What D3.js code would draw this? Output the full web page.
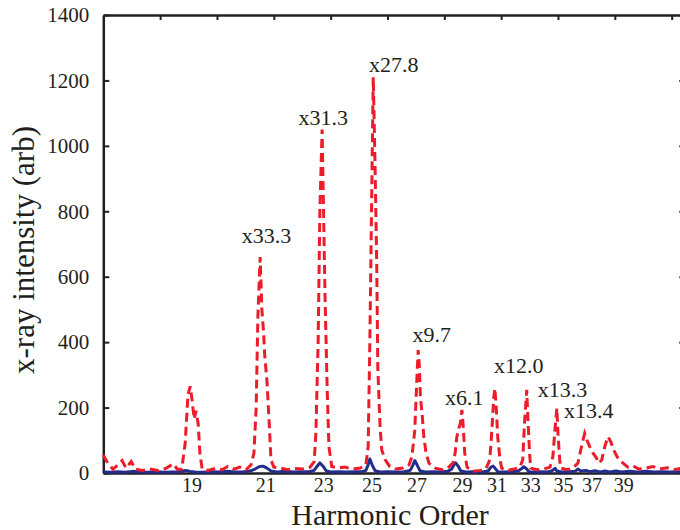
<!DOCTYPE html>
<html>
<head>
<meta charset="utf-8">
<script src="https://cdn.jsdelivr.net/npm/d3@7"></script>
<style>
  html, body { margin: 0; padding: 0; background: #fff; }
  svg { display: block; }
  text { font-family: "Liberation Serif", "Times New Roman", serif; fill: #231f20; }
</style>
</head>
<body>
<svg id="chart" width="680" height="530"></svg>
<script>
// Detector position (pixel) and intensity for the enhanced (dashed) spectrum
const redX = [0, 8, 17, 26, 33, 40, 49, 56, 68, 82, 96, 110, 123, 131, 138, 144, 149, 153, 156, 160, 163, 167, 170, 174,
  184, 197, 209, 219, 230, 240, 251, 260, 265, 269, 272, 276, 279, 282, 284, 288, 292, 295, 300,
  311, 325, 337, 350, 364, 371, 374, 378, 381, 385, 387, 390, 394, 397, 402,
  413, 425, 438, 452, 462, 466, 469, 473, 475, 478, 481, 483, 487, 490, 496, 504,
  515, 527, 538, 543, 548, 552, 554, 556, 558, 561, 564, 568, 573, 584,
  596, 606, 615, 619, 622, 626, 628, 631, 633, 636, 640, 650,
  663, 673, 680, 684, 687, 689, 692, 694, 698, 701,
  712, 723, 733, 738, 741, 745, 747, 750, 752,
  763, 775, 786, 791, 795, 798, 800, 803, 805,
  816, 826, 835, 840, 844, 847, 851, 856, 862, 867, 872, 877, 883, 888, 893, 898, 904, 909, 916, 923,
  932, 942, 953, 967, 979, 992, 1004, 1016, 1024];
const redY = [55, 30, 12, 25, 38, 15, 35, 12, 8, 12, 8, 14, 28, 10, 12, 90, 240, 265, 225, 165, 190, 150, 60, 12,
  8, 14, 10, 20, 12, 18, 10, 25, 60, 200, 480, 660, 500, 430, 360, 280, 150, 40, 18,
  15, 10, 14, 12, 18, 35, 120, 400, 800, 1050, 850, 550, 250, 80, 20,
  15, 18, 12, 15, 25, 80, 400, 950, 1210, 950, 650, 320, 140, 70, 40, 20,
  12, 15, 25, 50, 130, 300, 376, 330, 230, 180, 110, 60, 30, 15,
  10, 15, 30, 60, 110, 140, 150, 193, 150, 60, 18, 5,
  8, 12, 40, 140, 230, 259, 180, 110, 40, 15,
  8, 12, 18, 40, 150, 254, 170, 60, 15,
  10, 12, 18, 50, 140, 198, 120, 40, 15,
  10, 15, 30, 70, 100, 121, 100, 80, 60, 48, 30, 40, 85, 111, 95, 70, 50, 38, 28, 18,
  22, 12, 14, 20, 12, 16, 10, 14, 12];

// Detector position (pixel) and intensity for the reference (solid) spectrum
const blueX = [0, 12, 26, 38, 52, 65, 79, 93, 107, 121, 135, 145, 153, 161, 175, 191, 205, 219, 233, 247,
  258, 267, 274, 281, 288, 295, 306, 320, 334, 348, 362, 371, 376, 381, 387, 392, 399,
  413, 427, 441, 455, 462, 466, 469, 473, 478, 487, 501, 515, 529, 540, 545, 548, 552, 557, 566,
  580, 594, 606, 613, 617, 620, 624, 629, 638, 652, 666, 677, 682, 686, 689, 694,
  707, 719, 730, 735, 740, 744, 749, 759, 770, 780, 789, 795, 798, 807, 819, 830, 835, 840, 849,
  856, 865, 874, 883, 891, 902, 912, 926, 940, 955, 969, 983, 997, 1011, 1024];
const blueY = [3, 2, 4, 2, 5, 3, 2, 4, 2, 3, 4, 8, 5, 3, 2, 4, 3, 5, 3, 4,
  6, 12, 19, 21, 15, 6, 3, 5, 3, 4, 4, 8, 20, 31, 20, 7, 3,
  4, 3, 4, 4, 8, 25, 43, 25, 7, 3, 4, 3, 4, 8, 25, 38, 25, 7, 3,
  4, 3, 5, 12, 25, 31, 22, 6, 3, 4, 3, 6, 18, 21, 15, 4,
  3, 4, 6, 12, 19, 14, 4, 3, 4, 3, 6, 14, 6, 3, 4, 5, 12, 6, 8,
  4, 7, 3, 6, 3, 6, 3, 5, 3, 5, 3, 4, 3, 4, 3];

// Harmonic order labels and their detector positions
const harmonicOrders = [19, 21, 23, 25, 27, 29, 31, 33, 35, 37, 39];
const harmonicPos = [155, 285, 387, 472, 551, 631, 692, 751, 809, 859, 915];

// Enhancement factors written beside the peaks
const factorText = ["x33.3", "x31.3", "x27.8", "x9.7", "x6.1", "x12.0", "x13.3", "x13.4"];
const factorX = [287, 387, 511, 578, 635, 731, 808, 854];
const factorY = [703, 1064, 1226, 400, 208, 306, 232, 168];

const yTicks = [0, 200, 400, 600, 800, 1000, 1200, 1400];
const xTicks = [100, 200, 300, 400, 500, 600, 700, 800, 900, 1000];

const svg = d3.select("#chart");
const m = { left: 103.3, top: 15, right: 685.3, bottom: 473 };

const x = d3.scaleLinear().domain([0, 1024]).range([m.left, m.right]);
const y = d3.scaleLinear().domain([0, 1400]).range([m.bottom, m.top]);

const plot = svg.append("g");

// Box frame with inward ticks
const axisColor = "#231f20";
plot.append("g").attr("transform", `translate(${m.left},0)`)
  .call(d3.axisLeft(y).tickValues(yTicks).tickSizeInner(-6).tickSizeOuter(0).tickPadding(14).tickFormat(d3.format("d")))
  .call(g => g.select(".domain").attr("stroke", axisColor).attr("stroke-width", 2.5))
  .call(g => g.selectAll(".tick line").attr("stroke", axisColor).attr("stroke-width", 2))
  .call(g => g.selectAll(".tick text").attr("font-size", 21).attr("font-family", "Liberation Serif").attr("fill", axisColor));

plot.append("g").attr("transform", `translate(${m.right},0)`)
  .call(d3.axisRight(y).tickValues(yTicks).tickSizeInner(-6).tickSizeOuter(0).tickFormat(""))
  .call(g => g.select(".domain").attr("stroke", axisColor).attr("stroke-width", 2.5))
  .call(g => g.selectAll(".tick line").attr("stroke", axisColor).attr("stroke-width", 2));

plot.append("g").attr("transform", `translate(0,${m.top})`)
  .call(d3.axisTop(x).tickValues(xTicks).tickSizeInner(-5).tickSizeOuter(0).tickFormat(""))
  .call(g => g.select(".domain").attr("stroke", axisColor).attr("stroke-width", 2.5))
  .call(g => g.selectAll(".tick line").attr("stroke", axisColor).attr("stroke-width", 2));

plot.append("g").attr("transform", `translate(0,${m.bottom})`)
  .call(d3.axisBottom(x).tickValues(harmonicPos).tickSize(0).tickPadding(5)
    .tickFormat((d, i) => harmonicOrders[i]))
  .call(g => g.select(".domain").attr("stroke", axisColor).attr("stroke-width", 2.5))
  .call(g => g.selectAll(".tick text").attr("font-size", 20).attr("font-family", "Liberation Serif").attr("fill", axisColor));

// Spectra
const line = d3.line().x(d => x(d[0])).y(d => y(d[1]));
const redPts = redX.map((v, i) => [v, redY[i]]);
const bluePts = blueX.map((v, i) => [v, blueY[i]]);

plot.append("path").datum(bluePts)
  .attr("d", line).attr("fill", "none")
  .attr("stroke", "#232d8c").attr("stroke-width", 3).attr("stroke-linejoin", "round");

plot.append("path").datum(redPts)
  .attr("d", line).attr("fill", "none")
  .attr("stroke", "#ec1c2a").attr("stroke-width", 3)
  .attr("stroke-dasharray", "9,5");

// Factor annotations
plot.selectAll("text.factor").data(factorText).join("text")
  .attr("class", "factor")
  .attr("x", (d, i) => x(factorX[i]))
  .attr("y", (d, i) => y(factorY[i]))
  .attr("text-anchor", "middle")
  .attr("font-size", 22)
  .text(d => d);

// Axis titles
svg.append("text")
  .attr("x", 390).attr("y", 525)
  .attr("text-anchor", "middle").attr("font-size", 30)
  .text("Harmonic Order");

svg.append("text")
  .attr("transform", "translate(34,250) rotate(-90)")
  .attr("text-anchor", "middle").attr("font-size", 31)
  .text("x-ray intensity (arb)");
</script>
</body>
</html>
